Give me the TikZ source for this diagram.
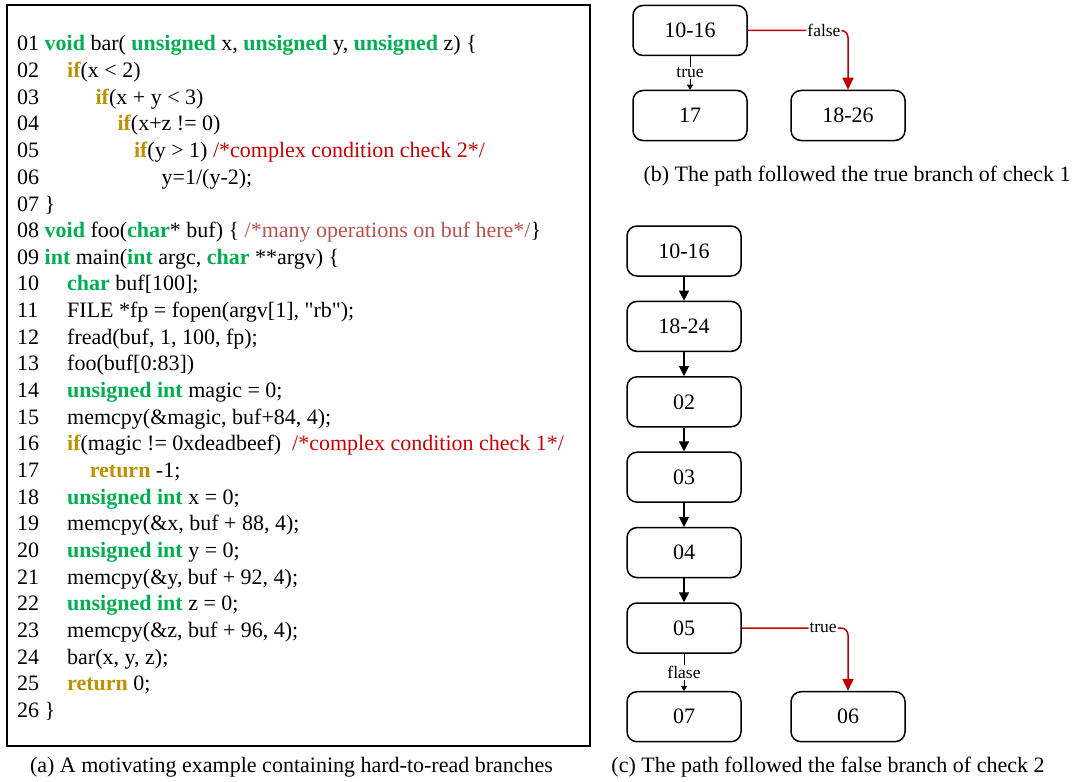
\documentclass[tikz,border=0pt]{standalone}
\usepackage{fontspec}
\setmainfont{Liberation Serif}
\usetikzlibrary{arrows.meta}

\definecolor{kwgreen}{RGB}{0,176,80}
\definecolor{kwgold}{RGB}{191,144,0}
\definecolor{cmtred}{RGB}{204,0,0}
\definecolor{cmtsoft}{RGB}{192,80,77}
\definecolor{pathred}{RGB}{192,0,0}

% syntax colouring helpers
\newcommand{\kw}[1]{\textbf{\textcolor{kwgreen}{#1}}}
\newcommand{\ctl}[1]{\textbf{\textcolor{kwgold}{#1}}}
\newcommand{\cmt}[1]{\textcolor{cmtred}{#1}}

\begin{document}
\begin{tikzpicture}[x=1pt,y=-1pt,
  code/.style={anchor=base west, inner sep=0pt, font=\fontsize{22}{26}\selectfont},
  blk/.style={draw, line width=1.5pt, rounded corners=10pt, minimum width=114pt,
              minimum height=50pt, inner sep=0pt, font=\fontsize{22}{26}\selectfont},
  captext/.style={anchor=base, inner sep=0pt, font=\fontsize{22}{26}\selectfont},
  lbl/.style={fill=white, inner sep=1pt, text=black, font=\fontsize{17.5}{20}\selectfont},
  flow/.style={draw, line width=1.3pt, -{Triangle[width=10pt,length=10pt]}},
  thinflow/.style={draw, line width=1pt, -{Triangle[width=6pt,length=5pt]}},
  taken/.style={draw=pathred, line width=1.5pt, rounded corners=7pt,
                -{Triangle[width=11pt,length=12pt]}}
]
\useasboundingbox (0,0) rectangle (1075,781);

% ---------- (a) source listing ----------
\draw[line width=1.5pt] (7,5) rectangle (590,746);

\node[code] (l01) at (17,51)   {01 \kw{void} bar( \kw{unsigned} x, \kw{unsigned} y, \kw{unsigned} z) \{};
\node[code] (n02) at (17,77.7) {02};
\node[code] (c02) at (67,77.7) {\ctl{if}(x < 2)};
\node[code] (n03) at (17,104.3) {03};
\node[code] (c03) at (95.4,104.3) {\ctl{if}(x + y < 3)};
\node[code] (n04) at (17,131) {04};
\node[code] (c04) at (117.3,131) {\ctl{if}(x+z != 0)};
\node[code] (n05) at (17,157.6) {05};
\node[code] (c05) at (133.8,157.6) {\ctl{if}(y > 1) \cmt{/*complex condition check 2*/}};
\node[code] (n06) at (17,184.3) {06};
\node[code] (c06) at (161.5,184.3) {y=1/(y-2);};
\node[code] (l07) at (17,211) {07 \}};
\node[code] (l08) at (17,237.6) {08 \kw{void} foo(\kw{char}* buf) \{ \textcolor{cmtsoft}{/*many operations on buf here*/}\}};
\node[code] (l09) at (17,264.3) {09 \kw{int} main(\kw{int} argc, \kw{char} **argv) \{};
\node[code] (n10) at (17,290.9) {10};
\node[code] (c10) at (67,290.9) {\kw{char} buf[100];};
\node[code] (n11) at (17,317.6) {11};
\node[code] (c11) at (67,317.6) {FILE *fp = fopen(argv[1], \textquotedbl rb\textquotedbl);};
\node[code] (n12) at (17,344.3) {12};
\node[code] (c12) at (67,344.3) {fread(buf, 1, 100, fp);};
\node[code] (n13) at (17,370.9) {13};
\node[code] (c13) at (67,370.9) {foo(buf[0:83])};
\node[code] (n14) at (17,397.6) {14};
\node[code] (c14) at (67,397.6) {\kw{unsigned int} magic = 0;};
\node[code] (n15) at (17,424.2) {15};
\node[code] (c15) at (67,424.2) {memcpy(\&magic, buf+84, 4);};
\node[code] (n16) at (17,450.9) {16};
\node[code] (c16) at (67,450.9) {\ctl{if}(magic != 0xdeadbeef)\ \ \cmt{/*complex condition check 1*/}};
\node[code] (n17) at (17,477.6) {17};
\node[code] (c17) at (89.6,477.6) {\ctl{return} -1;};
\node[code] (n18) at (17,504.2) {18};
\node[code] (c18) at (67,504.2) {\kw{unsigned int} x = 0;};
\node[code] (n19) at (17,530.9) {19};
\node[code] (c19) at (67,530.9) {memcpy(\&x, buf + 88, 4);};
\node[code] (n20) at (17,557.5) {20};
\node[code] (c20) at (67,557.5) {\kw{unsigned int} y = 0;};
\node[code] (n21) at (17,584.2) {21};
\node[code] (c21) at (67,584.2) {memcpy(\&y, buf + 92, 4);};
\node[code] (n22) at (17,610.9) {22};
\node[code] (c22) at (67,610.9) {\kw{unsigned int} z = 0;};
\node[code] (n23) at (17,637.5) {23};
\node[code] (c23) at (67,637.5) {memcpy(\&z, buf + 96, 4);};
\node[code] (n24) at (17,664.2) {24};
\node[code] (c24) at (67,664.2) {bar(x, y, z);};
\node[code] (n25) at (17,690.8) {25};
\node[code] (c25) at (67,690.8) {\ctl{return} 0;};
\node[code] (l26) at (17,717.5) {26 \}};

\node[captext] (capa) at (291.5,772) {(a) A motivating example containing hard-to-read branches};

% ---------- (b) check 1 taken true ----------
\node[blk] (b1016) at (690,30.5)  {10-16};
\node[blk] (b17)   at (690,115.5) {17};
\node[blk] (b1826) at (848,115.5) {18-26};

\draw[thinflow] (b1016.south) -- node[lbl] {true} (b17.north);
\draw[taken] (b1016.east) -| node[lbl, pos=0.38] {false} (b1826.north);

\node[captext] (capb) at (857,181.5) {(b) The path followed the true branch of check 1};

% ---------- (c) check 2 taken false ----------
\node[blk] (c1016) at (684,251)   {10-16};
\node[blk] (c1824) at (684,326.4) {18-24};
\node[blk] (s02)   at (684,401.8) {02};
\node[blk] (s03)   at (684,477.2) {03};
\node[blk] (s04)   at (684,552.6) {04};
\node[blk] (s05)   at (684,628)   {05};
\node[blk] (s07)   at (684,716.7) {07};
\node[blk] (s06)   at (848,716.7) {06};

\draw[flow] (c1016.south) -- (c1824.north);
\draw[flow] (c1824.south) -- (s02.north);
\draw[flow] (s02.south) -- (s03.north);
\draw[flow] (s03.south) -- (s04.north);
\draw[flow] (s04.south) -- (s05.north);
\draw[thinflow] (s05.south) -- node[lbl] {flase} (s07.north);
\draw[taken] (s05.east) -| node[lbl, pos=0.383] {true} (s06.north);

\node[captext] (capc) at (828,772) {(c) The path followed the false branch of check 2};
\end{tikzpicture}
\end{document}
